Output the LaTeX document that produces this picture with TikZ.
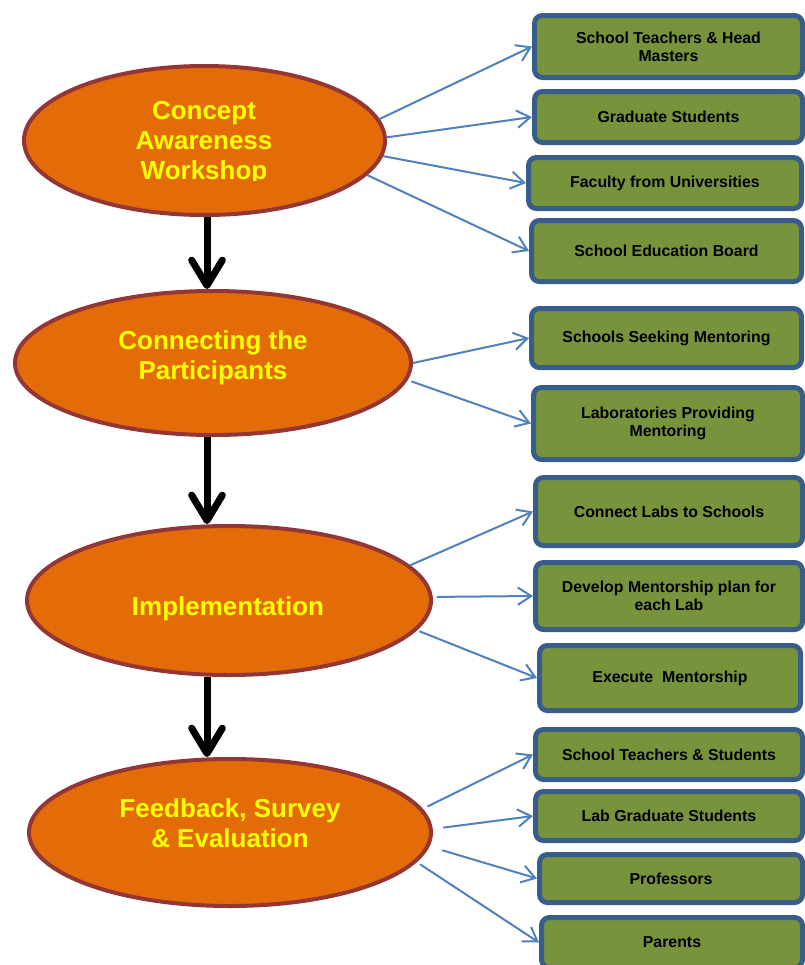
\documentclass[tikz,border=0pt]{standalone}
\usepackage{fontspec}
\setmainfont{Liberation Sans}
\usetikzlibrary{shapes.geometric,arrows.meta}
\definecolor{stageFill}{HTML}{E36C09}
\definecolor{stageLine}{HTML}{943634}
\definecolor{itemFill}{HTML}{77933C}
\definecolor{itemLine}{HTML}{385D8A}
\definecolor{linkBlue}{HTML}{4F81BD}
\definecolor{stageText}{HTML}{FFFF00}

\begin{document}
\begin{tikzpicture}[x=0.75pt,y=-0.75pt,
  stage/.style={ellipse, draw=stageLine, fill=stageFill, line width=3pt, inner sep=0pt},
  stagetext/.style={text=stageText, font=\fontsize{19.5}{22.5}\selectfont\bfseries, align=center, inner sep=0pt},
  item/.style={draw=itemLine, fill=itemFill, line width=3.75pt, rounded corners=6pt,
    inner sep=0pt, align=center, text=black, font=\fontsize{11.9}{13.5}\selectfont\bfseries},
  flow/.style={line width=5.25pt, -{Straight Barb[length=19pt,width=23pt,round]}},
  link/.style={draw=linkBlue, line width=1.5pt, -{Straight Barb[length=10pt,width=13pt]}}]

\clip (0,0) rectangle (805,965);
\fill[white] (0,0) rectangle (805,965);

% main stages
\node[stage, minimum width=270.75pt, minimum height=111.75pt] (e1) at (204.5,140.5) {};
\node[stage, minimum width=297pt,    minimum height=108pt]    (e2) at (213,363) {};
\node[stage, minimum width=303pt,    minimum height=111.75pt] (e3) at (229,600.5) {};
\node[stage, minimum width=301.5pt,  minimum height=110.25pt] (e4) at (230,832.5) {};

\begin{scope}
  \clip (0,0) rectangle (805,180.5);
  \node[stagetext] (t1) at (204,143) {Concept\\Awareness\\Workshop};
\end{scope}
\node[stagetext] (t2) at (213,357.5) {Connecting the\\Participants};
\node[stagetext] (t3) at (228,608.5) {Implementation};
\node[stagetext] (t4) at (230,823.5) {Feedback, Survey\\\& Evaluation};

% activity boxes
\node[item, minimum width=201pt,    minimum height=46.5pt]  (b1)  at (668.5,46.5)  {School Teachers \& Head\\Masters};
\node[item, minimum width=201pt,    minimum height=38.25pt] (b2)  at (668.5,117)   {Graduate Students};
\node[item, minimum width=204.75pt, minimum height=38.25pt] (b3)  at (665,183)     {Faculty from Universities};
\node[item, minimum width=202.5pt,  minimum height=45.75pt] (b4)  at (666.5,251)   {School Education Board};
\node[item, minimum width=202.5pt,  minimum height=44.25pt] (b5)  at (666.5,338)   {Schools Seeking Mentoring};
\node[item, minimum width=201.75pt, minimum height=54pt]    (b6)  at (668,423.5)   {Laboratories Providing\\Mentoring};
\node[item, minimum width=200.25pt, minimum height=51pt]    (b7)  at (669,511.5)   {Connect Labs to Schools};
\node[item, minimum width=200.25pt, minimum height=50.25pt] (b8)  at (669,596)     {Develop Mentorship plan for\\each Lab};
\node[item, minimum width=195.75pt, minimum height=48.75pt] (b9)  at (670,678)     {Execute\ \ Mentorship};
\node[item, minimum width=200.25pt, minimum height=37.5pt]  (b10) at (669,754.5)   {School Teachers \& Students};
\node[item, minimum width=200.25pt, minimum height=36.75pt] (b11) at (669,816)     {Lab Graduate Students};
\node[item, minimum width=197.25pt, minimum height=36pt]    (b12) at (671,878.5)   {Professors};
\node[item, minimum width=195.75pt, minimum height=37.5pt]  (b13) at (672,942.5)   {Parents};

% vertical flow between stages
\coordinate (axis) at (207,0);
\draw[flow] (e1.south -| axis) -- (e2.north -| axis);
\draw[flow] (e2.south -| axis) -- (e3.north -| axis);
\draw[flow] (e3.south -| axis) -- (e4.north -| axis);

% links from stages to boxes
\draw[link] (e1.7.9)  -- (b1.west);
\draw[link] (e1.1.1)  -- (b2.west);
\draw[link] (e1.-5.4) -- (b3.west);
\draw[link] (e1.-12.7) -- (b4.west);

\draw[link] (e2.-0.3) -- (b5.west);
\draw[link, shorten <=3pt] (e2.-5.1) -- (b6.west);

\draw[link] (e3.11.9) -- (b7.west);
\draw[link, shorten <=3pt] (e3.1.2) -- (b8.west);
\draw[link, shorten <=2pt] (e3.-9.7) -- (b9.west);

\draw[link, shorten <=4pt] (e4.7.2)  -- (b10.west);
\draw[link, shorten <=8pt] (e4.1.2) -- (b11.west);
\draw[link, shorten <=10pt] (e4.-4.1) -- (b12.west);
\draw[link, shorten <=3pt] (e4.-9.6) -- (b13.west);
\end{tikzpicture}
\end{document}
